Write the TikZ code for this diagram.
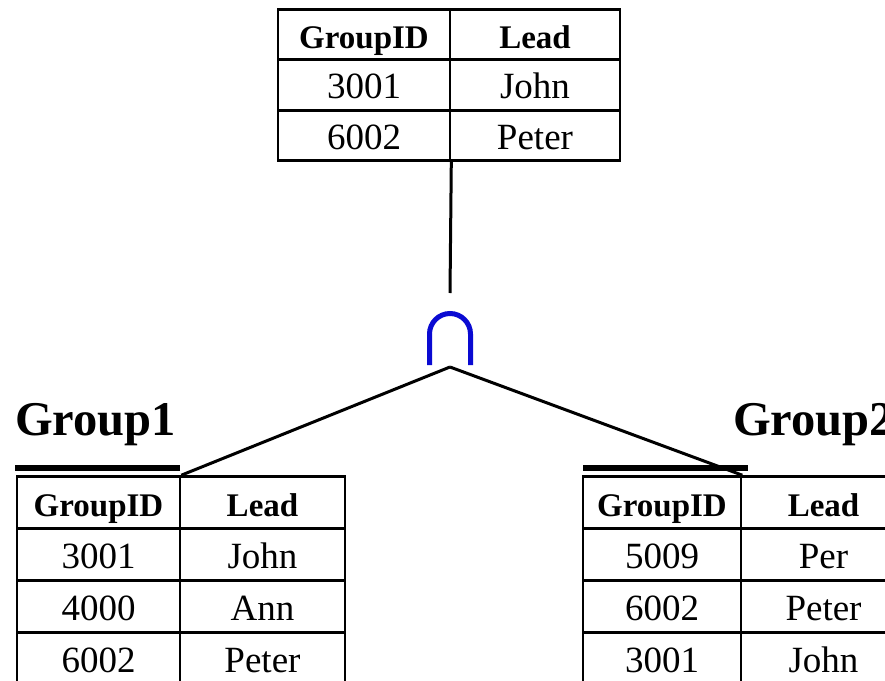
\documentclass[tikz,border=0pt]{standalone}
\usepackage{fontspec}
\setmainfont{Liberation Serif}
\begin{document}
\begin{tikzpicture}[x=1pt,y=-1pt,
  cell/.style={draw=black, line width=2.6pt, fill=white, rectangle, inner sep=0pt,
    text height=30pt, text depth=3pt},
  hdr/.style={cell, font=\fontsize{33}{36}\selectfont\bfseries},
  val/.style={cell, font=\fontsize{37}{40}\selectfont},
  title/.style={anchor=base west, inner sep=0pt, font=\fontsize{48.5}{52}\selectfont\bfseries},
  conn/.style={line width=3pt, black},
  bar/.style={line width=6pt, black},
  capstroke/.style={line width=5pt, draw={rgb,255:red,10;green,10;blue,210}}]
\useasboundingbox (0,0) rectangle (885,680);
\clip (0,0) rectangle (885,680);
% top table
\begin{scope}[every node/.append style={minimum height=50.5pt}]
\node[hdr, minimum width=172pt] (t11) at (364,34.5) {GroupID};
\node[hdr, minimum width=170pt] (t12) at (535,34.5) {Lead};
\node[val, minimum width=172pt] (t21) at (364,85) {3001};
\node[val, minimum width=170pt] (t22) at (535,85) {John};
\node[val, minimum width=172pt] (t31) at (364,135.5) {6002};
\node[val, minimum width=170pt] (t32) at (535,135.5) {Peter};
\end{scope}
% left table
\begin{scope}[every node/.append style={minimum height=52pt}]
\node[hdr, minimum width=163pt] (a11) at (98.5,502.5) {GroupID};
\node[hdr, minimum width=165pt] (a12) at (262.5,502.5) {Lead};
\node[val, minimum width=163pt] (a21) at (98.5,554.5) {3001};
\node[val, minimum width=165pt] (a22) at (262.5,554.5) {John};
\node[val, minimum width=163pt] (a31) at (98.5,606.5) {4000};
\node[val, minimum width=165pt] (a32) at (262.5,606.5) {Ann};
\node[val, minimum width=163pt] (a41) at (98.5,658.5) {6002};
\node[val, minimum width=165pt] (a42) at (262.5,658.5) {Peter};
\end{scope}
% right table
\begin{scope}[every node/.append style={minimum height=52pt}]
\node[hdr, minimum width=158pt] (b11) at (662,502.5) {GroupID};
\node[hdr, minimum width=165pt] (b12) at (823.5,502.5) {Lead};
\node[val, minimum width=158pt] (b21) at (662,554.5) {5009};
\node[val, minimum width=165pt] (b22) at (823.5,554.5) {Per};
\node[val, minimum width=158pt] (b31) at (662,606.5) {6002};
\node[val, minimum width=165pt] (b32) at (823.5,606.5) {Peter};
\node[val, minimum width=158pt] (b41) at (662,658.5) {3001};
\node[val, minimum width=165pt] (b42) at (823.5,658.5) {John};
\end{scope}
% titles and bars
\node[title] (g1) at (15,435) {Group1};
\node[title] (g2) at (733,435) {Group2};
\coordinate (u1a) at (15,468);
\coordinate (u1b) at (180,468);
\coordinate (u2a) at (583,468);
\coordinate (u2b) at (748,468);
\draw[bar] (u1a) -- (u1b);
\draw[bar] (u2a) -- (u2b);
% intersection symbol
\coordinate (captop) at (450,293);
\coordinate (apex) at (450,367);
\draw[capstroke] (429.5,365) -- (429.5,334) arc[start angle=180, end angle=360, radius=20.5] -- (470.5,365);
% connectors
\draw[conn] (t31.south east) -- (captop);
\draw[conn] (apex) -- (a11.north east);
\draw[conn] (apex) -- (b11.north east);
\end{tikzpicture}
\end{document}
